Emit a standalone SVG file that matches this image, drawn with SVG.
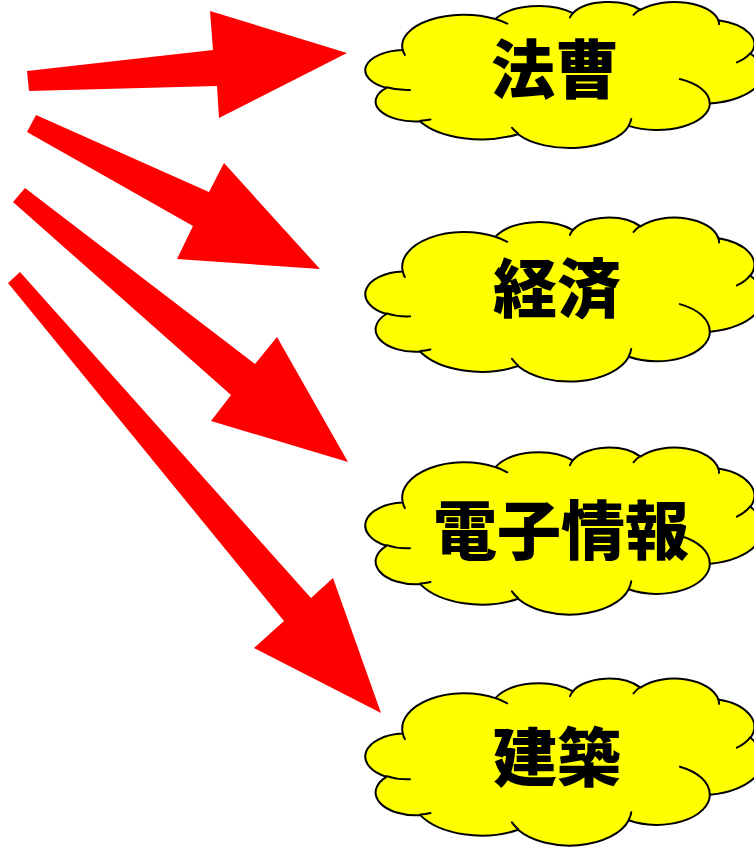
<svg xmlns="http://www.w3.org/2000/svg" xmlns:xlink="http://www.w3.org/1999/xlink" width="754" height="847" viewBox="0 0 754 847">
<style>
.cloud-fill{fill:#FFFF00;stroke:#000;stroke-width:2;stroke-linejoin:round;vector-effect:non-scaling-stroke}
.cloud-line{fill:none;stroke:#000;stroke-width:2;stroke-linecap:round;vector-effect:non-scaling-stroke}
.label{font-family:"Noto Sans CJK JP","Noto Sans CJK SC",sans-serif;font-weight:900;font-size:64px;fill:#000;text-anchor:middle}
.arrow{fill:#FF0000;stroke:none}
</style>
<defs>
<g id="cloud">
<path class="cloud-fill" d="M3900 14370 A6753 9190 0 0 1 14005 5202 A5333 7267 0 0 1 22459 3431 A4365 5945 0 0 1 29837 2481 A4857 6595 0 0 1 38321 5578 A5333 7273 0 0 1 41821 15462 A6775 9220 0 0 1 37406 30203 A5785 7867 0 0 1 28557 36813 A6752 9215 0 0 1 16481 39265 A7720 10543 0 0 1 5806 35475 A4360 5918 0 0 1 2115 25554 A4345 5945 0 0 1 3900 14370 Z"/>
<path class="cloud-line" d="M4693 26177 A4345 5945 0 0 1 2159 25380 M6928 34899 A4360 5918 0 0 1 5820 35281 M16478 39090 A6752 9215 0 0 1 15810 37350 M28827 34751 A6752 9215 0 0 1 28561 36659 M34129 22954 A5785 7867 0 0 1 37381 30090 M41798 15354 A5333 7273 0 0 1 40350 18031 M38324 5426 A4857 6595 0 0 1 38400 6690 M29078 3952 A4857 6595 0 0 1 29821 2338 M22141 4720 A4365 5945 0 0 1 22500 3331 M14000 5192 A6753 9190 0 0 1 15298 6538 M4127 15789 A6753 9190 0 0 1 3900 14371"/>
</g>
</defs>
<g id="connectors">
<polygon class="arrow" points="27,71 213,50 210,11 347,53 219,118 217,86 29,91"/>
<polygon class="arrow" points="36,115 209,192 224,163 320,269 177,259 193,226 27,132"/>
<polygon class="arrow" points="25,188 255,364 277,337 348,462 211,421 231,395 13,202"/>
<polygon class="arrow" points="20,272 311,598 333,578 381,713 254,648 284,621 8,283"/>
</g>
<g id="node-housou">
<use xlink:href="#cloud" transform="translate(367,1.5) scale(0.0091667,0.0033796)"/>
<text class="label" x="555" y="93">法曹</text>
</g>
<g id="node-keizai">
<use xlink:href="#cloud" transform="translate(367,217) scale(0.0091667,0.0037963)"/>
<text class="label" x="557" y="312">経済</text>
</g>
<g id="node-denshi">
<use xlink:href="#cloud" transform="translate(367,447) scale(0.0091667,0.0038657)"/>
<text class="label" x="561" y="554">電子情報</text>
</g>
<g id="node-kenchiku">
<use xlink:href="#cloud" transform="translate(367,678) scale(0.0091667,0.0038657)"/>
<text class="label" x="557" y="781">建築</text>
</g>
</svg>
